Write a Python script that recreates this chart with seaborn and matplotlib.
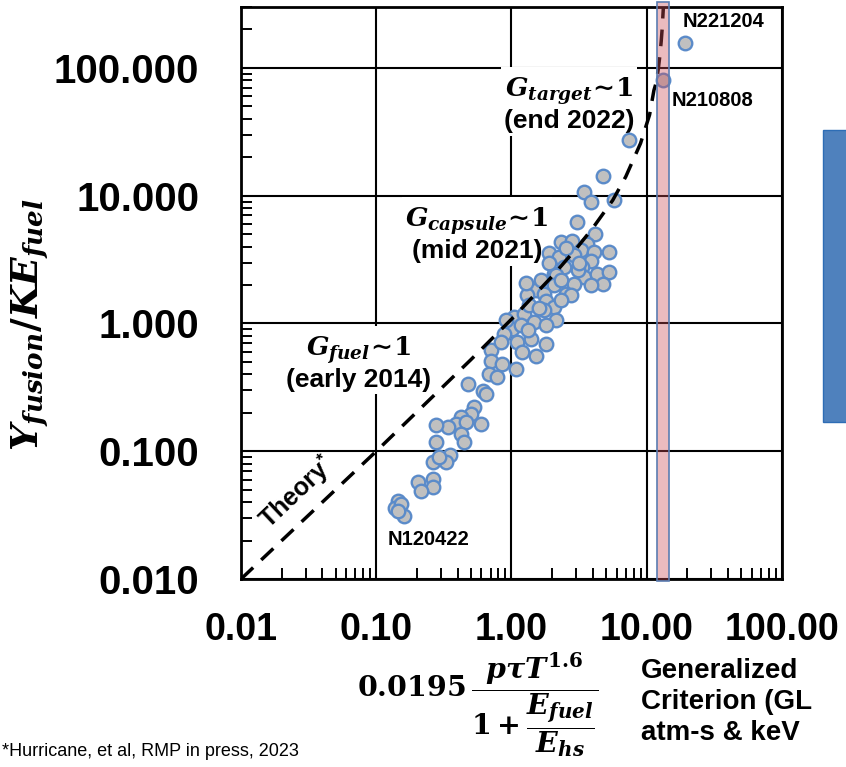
import matplotlib
matplotlib.use("Agg")
import matplotlib.pyplot as plt
import matplotlib.patches as mpatches
from matplotlib.ticker import LogLocator, NullFormatter
import seaborn as sns
import pandas as pd

# ---------------- data ----------------
glc = [19.19, 13.29, 7.36, 4.71, 3.44, 3.855, 5.70, 3.04, 4.13, 2.31,
       2.82, 3.60, 3.25, 4.06, 5.24, 1.90, 2.25, 2.90, 3.855, 3.35,
       3.44, 2.45, 2.065, 2.125, 4.32, 5.27, 4.71, 2.90, 2.065, 2.52,
       2.74, 1.512, 1.313, 1.742, 1.793, 2.065, 2.125, 1.045, 1.239, 1.469,
       1.742, 1.017, 0.882, 1.172, 1.107, 1.389, 1.793, 1.206, 1.512, 0.703,
       0.703, 0.834, 0.858, 0.683, 0.788, 1.076, 0.473, 0.611, 0.646, 0.529,
       0.500, 0.422, 0.3877, 0.4595, 0.593, 0.3365, 0.2758, 0.422, 0.4464, 0.2758,
       0.3517, 0.3268, 0.2607, 0.2917, 0.2607, 0.2607, 0.2019, 0.2136, 0.1437, 0.1372,
       0.1520, 0.1608, 0.1437, 1.647, 2.31, 1.887, 1.342, 1.591, 2.31, 3.09,
       3.855, 2.52, 3.145, 0.908, 1.320, 1.793, 1.276]
yield_ratio = [157.8, 80.0, 27.1, 14.16, 10.67, 8.91, 9.19, 6.23, 4.98, 4.31,
               4.43, 4.155, 3.73, 3.60, 3.60, 3.565, 3.29, 3.41, 3.11, 2.76,
               2.305, 2.76, 2.45, 2.376, 2.45, 2.52, 2.046, 2.02, 1.985, 1.709,
               1.657, 1.813, 1.657, 1.709, 1.50, 1.341, 1.056, 1.120, 1.191, 1.018,
               1.264, 0.909, 0.831, 0.965, 0.714, 0.759, 0.693, 0.596, 0.552, 0.615,
               0.513, 0.714, 0.4835, 0.404, 0.38, 0.442, 0.337, 0.2988, 0.2815, 0.2211,
               0.1963, 0.1846, 0.1639, 0.1687, 0.1639, 0.1542, 0.1618, 0.1368, 0.1176, 0.1176,
               0.0942, 0.0820, 0.0820, 0.0897, 0.0608, 0.0522, 0.0572, 0.0492, 0.0411, 0.0358,
               0.0387, 0.0314, 0.0343, 2.17, 2.17, 3.00, 1.383, 1.31, 1.514, 2.60,
               1.985, 3.87, 3.00, 1.056, 0.882, 0.965, 2.057]

theory_glc = [0.01, 0.1, 0.5, 1.0, 2.0, 3.0, 4.0, 5.6, 7.0, 9.0,
              10.5, 11.3, 11.8, 12.2, 12.5, 12.8, 13.0, 13.3]
theory_yield = [0.01, 0.1, 0.52, 1.08, 2.34, 3.83, 5.6, 9.2, 14.1, 25.7,
                43.0, 66.8, 78.0, 99.7, 124.0, 162.0, 201.0, 308.0]

ignition_band = [12.0, 14.6]

x_ticks = [0.01, 0.1, 1, 10, 100]
x_tick_labels = ["0.01", "0.10", "1.00", "10.00", "100.00"]
y_ticks = [0.01, 0.1, 1, 10, 100]
y_tick_labels = ["0.010", "0.100", "1.000", "10.000", "100.000"]
minor_subs = [2, 3, 4, 5, 6, 7, 8, 9]

df = pd.DataFrame({"glc": glc, "yield_ratio": yield_ratio})

# ---------------- style ----------------
sns.set_style("white")
plt.rcParams["font.family"] = ["Liberation Sans", "DejaVu Sans"]
plt.rcParams["text.color"] = "black"
plt.rcParams["xtick.color"] = "black"
plt.rcParams["ytick.color"] = "black"
plt.rcParams["xtick.bottom"] = True
plt.rcParams["ytick.left"] = True
plt.rcParams["xtick.minor.visible"] = True
plt.rcParams["ytick.minor.visible"] = True
plt.rcParams["mathtext.fontset"] = "custom"
plt.rcParams["mathtext.rm"] = "DejaVu Serif:bold"
plt.rcParams["mathtext.it"] = "DejaVu Serif:italic:bold"
plt.rcParams["mathtext.bf"] = "DejaVu Serif:bold"
plt.rcParams["mathtext.sf"] = "Liberation Sans:bold"

fig = plt.figure(figsize=(8.46, 7.67), dpi=100)
ax = fig.add_axes([0.2849, 0.2451, 0.6394, 0.7458])
ax.set_xscale("log")
ax.set_yscale("log")
ax.set_xlim(0.01, 100)
ax.set_ylim(0.01, 300)

# grid and frame
ax.set_axisbelow(True)
ax.grid(True, which="major", color="black", lw=1.5)
ax.grid(False, which="minor")
for sp in ax.spines.values():
    sp.set_color("black")
    sp.set_linewidth(2)

# scatter
sns.scatterplot(data=df, x="glc", y="yield_ratio", ax=ax, s=95,
                color="#C0C0C0", edgecolor="#5B8BC9", linewidth=1.7,
                zorder=3, legend=False)

# theory curve
ax.plot(theory_glc, theory_yield, color="black", lw=2.5,
        linestyle=(0, (4.8, 3.2)), zorder=4)

# ignition band
ax.axvspan(ignition_band[0], ignition_band[1], ymin=-0.003, ymax=1.009,
           facecolor=(0.80, 0.30, 0.34, 0.38), edgecolor="#5B7DB1",
           lw=1.2, zorder=5, clip_on=False)

# ticks
ax.set_xticks(x_ticks)
ax.set_xticklabels(x_tick_labels)
ax.set_yticks(y_ticks)
ax.set_yticklabels(y_tick_labels)
ax.xaxis.set_minor_locator(LogLocator(base=10, subs=minor_subs, numticks=50))
ax.yaxis.set_minor_locator(LogLocator(base=10, subs=minor_subs, numticks=50))
ax.xaxis.set_minor_formatter(NullFormatter())
ax.yaxis.set_minor_formatter(NullFormatter())
ax.tick_params(which="major", length=0, left=True, bottom=True)
ax.tick_params(axis="x", which="major", labelsize=27, pad=24)
ax.tick_params(axis="y", which="major", labelsize=29, pad=30)
for lab in ax.get_xticklabels() + ax.get_yticklabels():
    lab.set_fontweight("bold")
ax.tick_params(axis="both", which="minor", direction="in", length=8, width=1.4,
               color="black", left=True, bottom=True, top=False, right=False)
ax.set_xlabel("")
ax.set_ylabel("")

# annotations
box = dict(facecolor="white", edgecolor="none", pad=2)
ax.text(0.606, 0.830, "$G_{target}\\!\\sim\\!1$\n(end 2022)", transform=ax.transAxes,
        ha="center", va="center", fontsize=19, fontweight="bold",
        linespacing=1.1, bbox=box, zorder=2)
ax.text(0.436, 0.603, "$G_{capsule}\\!\\sim\\!1$\n(mid 2021)", transform=ax.transAxes,
        ha="center", va="center", fontsize=19, fontweight="bold",
        linespacing=1.1, bbox=box, zorder=2)
ax.text(0.218, 0.378, "$G_{fuel}\\!\\sim\\!1$\n(early 2014)", transform=ax.transAxes,
        ha="center", va="center", fontsize=19, fontweight="bold",
        linespacing=1.1, bbox=box, zorder=2)
ax.text(0.1035, 0.152, "$\\mathsf{Theory}^{\\mathsf{*}}$", transform=ax.transAxes,
        ha="center", va="center", fontsize=18, rotation=43.3, zorder=6)
ax.text(0.3475, 0.0699, "N120422", transform=ax.transAxes, ha="center", va="center",
        fontsize=14.5, fontweight="bold", zorder=6)
ax.text(0.817, 0.974, "N221204", transform=ax.transAxes, ha="left", va="center",
        fontsize=14.5, fontweight="bold", zorder=6)
ax.text(0.7967, 0.8357, "N210808", transform=ax.transAxes, ha="left", va="center",
        fontsize=14.5, fontweight="bold", zorder=6)

# axis labels
fig.text(0.0355, 0.5763, "$Y_{fusion}/KE_{fuel}$", rotation=90,
         ha="center", va="center", fontsize=27)
fig.text(0.565, 0.079,
         "$0.0195\\,\\dfrac{p\\tau T^{1.6}}{1+\\dfrac{E_{fuel}}{E_{hs}}}$",
         ha="center", va="center", fontsize=20.5)
fig.text(0.7577, 0.142, "Generalized\nCriterion (GL\natm-s & keV",
         ha="left", va="top", fontsize=20, fontweight="bold", linespacing=1.25)
fig.text(0.002, 0.0196, "*Hurricane, et al, RMP in press, 2023",
         ha="left", va="center", fontsize=13)

# blue box on the right
fig.patches.append(mpatches.Rectangle((0.9728, 0.4498), 0.05, 0.3807,
                                      transform=fig.transFigure,
                                      facecolor="#4F81BD", edgecolor="#2E6DB5",
                                      lw=1.0))

fig.savefig("out.png", dpi=100)
